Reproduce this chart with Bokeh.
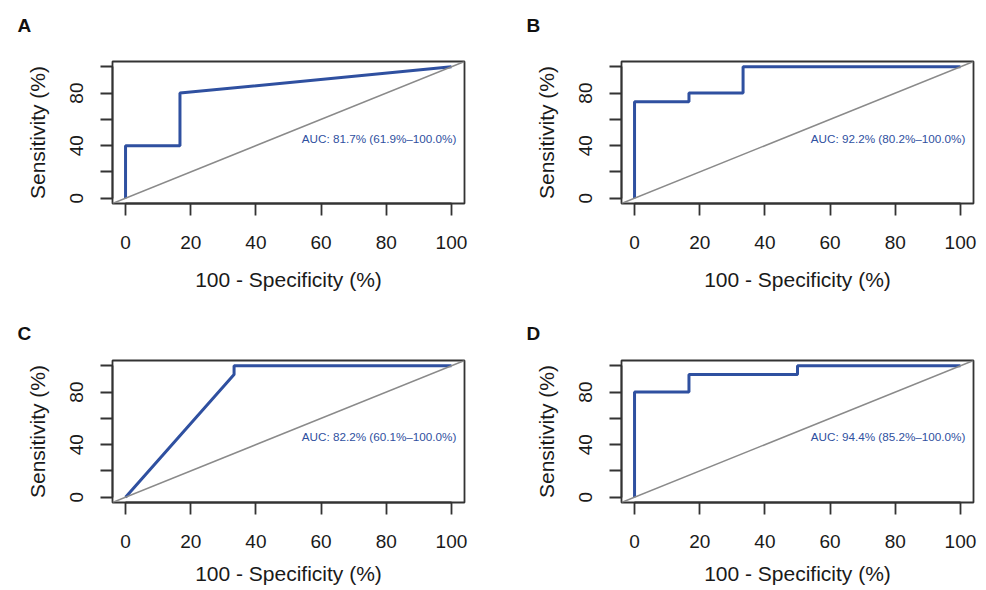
from bokeh.plotting import figure
from bokeh.layouts import column, row
from bokeh.models import Range1d, FixedTicker, Slope
from bokeh.core.properties import value
from bokeh.embed import file_html
from bokeh.resources import INLINE

# ---- data ----
panel_letters = ["A", "B", "C", "D"]
fpr_A = [0, 0, 16.7, 16.7, 100]
sens_A = [0, 40, 40, 80, 100]
fpr_B = [0, 0, 16.7, 16.7, 33.3, 33.3, 100]
sens_B = [0, 73.3, 73.3, 80, 80, 100, 100]
fpr_C = [0, 33.3, 33.3, 100]
sens_C = [0, 93.3, 100, 100]
fpr_D = [0, 0, 16.7, 16.7, 50, 50, 100]
sens_D = [0, 80, 80, 93.3, 93.3, 100, 100]
auc_labels = [
    "AUC: 81.7% (61.9%\u2013100.0%)",
    "AUC: 92.2% (80.2%\u2013100.0%)",
    "AUC: 82.2% (60.1%\u2013100.0%)",
    "AUC: 94.4% (85.2%\u2013100.0%)",
]
auc_x = [101.5, 101.5, 101.5, 101.5]
auc_y = [45.6, 45.6, 46.0, 46.0]
x_ticks = [0, 20, 40, 60, 80, 100]
y_ticks = [0, 20, 40, 60, 80, 100]
y_tick_labels = {0: "0", 20: "", 40: "40", 60: "", 80: "80", 100: ""}
x_title = "100 - Specificity (%)"
y_title = "Sensitivity (%)"

FONT = "Liberation Sans"
BLUE = "#2f50a0"
DARK = "#333333"


def make_panel(idx, fx, sy, width, height, border_left, border_right,
               border_top, border_bottom, xlabel_standoff, title_standoff, extra_line):
    p = figure(width=width, height=height,
               x_range=Range1d(-4, 104), y_range=Range1d(-4, 104),
               output_backend="svg", toolbar_location=None,
               min_border_left=border_left, min_border_right=border_right,
               min_border_top=border_top, min_border_bottom=border_bottom)
    p.grid.visible = False
    p.background_fill_color = "white"
    p.border_fill_color = "white"
    p.outline_line_color = DARK
    p.outline_line_width = 1.8
    p.outline_line_alpha = 1.0

    # panel letter as a left-aligned bold title
    p.title.text = panel_letters[idx] + ("\n\u00a0" if extra_line else "")
    p.title.align = "left"
    p.title.offset = -95
    p.title.vertical_align = "top"
    p.title.standoff = title_standoff
    p.title.text_font = FONT
    p.title.text_font_size = "19px"
    p.title.text_font_style = "bold"
    p.title.text_color = "#111111"

    for ax in (p.xaxis[0], p.yaxis[0]):
        ax.bounds = (0, 100)
        ax.axis_line_color = DARK
        ax.axis_line_width = 1.8
        ax.major_tick_line_color = DARK
        ax.major_tick_line_width = 1.8
        ax.major_tick_out = 12
        ax.major_tick_in = 0
        ax.minor_tick_line_color = None
        ax.major_label_text_font = FONT
        ax.major_label_text_font_size = "19px"
        ax.major_label_text_color = "#1a1a1a"
        ax.axis_label_text_font = FONT
        ax.axis_label_text_font_size = "21px"
        ax.axis_label_text_font_style = "normal"
        ax.axis_label_text_color = "#1a1a1a"

    p.xaxis.ticker = FixedTicker(ticks=x_ticks, minor_ticks=[])
    p.xaxis.axis_label = x_title
    p.xaxis.major_label_standoff = 20
    p.xaxis.axis_label_standoff = xlabel_standoff

    p.yaxis.ticker = FixedTicker(ticks=y_ticks, minor_ticks=[])
    p.yaxis.major_label_overrides = y_tick_labels
    p.yaxis.major_label_orientation = "parallel"
    p.yaxis.axis_label = y_title
    p.yaxis.major_label_standoff = 17
    p.yaxis.axis_label_standoff = 19

    p.add_layout(Slope(gradient=1, y_intercept=0, line_color="#8a8a8a", line_width=1.5))
    p.line(fx, sy, line_color=BLUE, line_width=3)
    p.text(x=[auc_x[idx]], y=[auc_y[idx]], text=[auc_labels[idx]],
           text_align="right", text_baseline="middle",
           text_font=value(FONT), text_font_size="11.7px",
           text_color=BLUE)
    return p


pa = make_panel(0, fpr_A, sens_A, 517, 307, 112, 53, 61, 104, 16, 6, True)
pb = make_panel(1, fpr_B, sens_B, 461, 307, 104, 5, 61, 104, 16, 6, True)
pc = make_panel(2, fpr_C, sens_C, 517, 283, 112, 53, 53, 88, 11, 30, False)
pd = make_panel(3, fpr_D, sens_D, 461, 283, 104, 5, 53, 88, 11, 30, False)

layout = column(row(pa, pb), row(pc, pd))
open("out.html", "w").write(file_html(layout, INLINE))
